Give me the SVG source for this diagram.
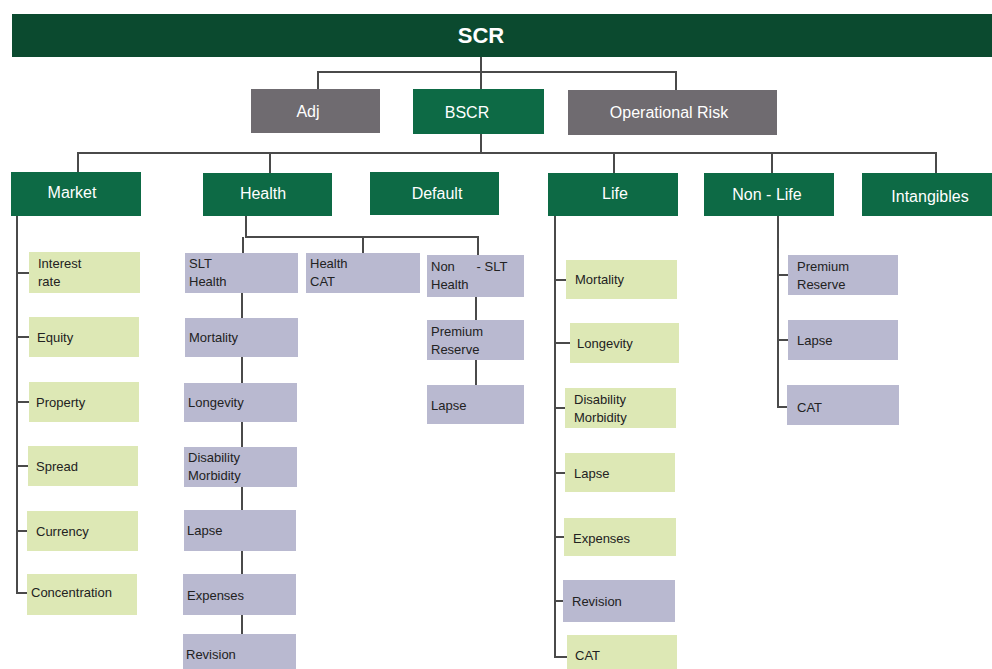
<svg xmlns="http://www.w3.org/2000/svg" width="992" height="669" viewBox="0 0 992 669">
<style>
text{font-family:"Liberation Sans",Arial,sans-serif}
.top{fill:#0b4a2f}
.g{fill:#0d6a45}
.gr{fill:#6f6b70}
.lg{fill:#dde8b5}
.lv{fill:#b9b9d0}
.w{fill:#fff;font-size:16px}
.t{fill:#222;font-size:13px}
.c{fill:none;stroke:#4a4a4a;stroke-width:2}
</style>
<rect width="992" height="669" fill="#fff"/>
<g id="connectors">
<path class="c" d="M481 57V72M318 89V72H676V90M481 72V89"/>
<path class="c" d="M481 134V153M78 172V153H936V173M270 153V173M614 153V173M772 153V173"/>
<path class="c" d="M17 216V593H28M17 273H29M17 337H29M17 402H29M17 466H28M17 531H27"/>
<path class="c" d="M246 216V237H478V255M363 237V253M243 237V253"/>
<path class="c" d="M242 293V634"/>
<path class="c" d="M476 297V385"/>
<path class="c" d="M555 216V657H567M555 280H566M555 343H570M555 408H565M555 473H565M555 537H564M555 601H563"/>
<path class="c" d="M778 216V407H787M778 275H788M778 340H788"/>
</g>
<g id="scr"><rect class="top" x="12" y="14" width="980" height="43"/><text x="481" y="43" text-anchor="middle" fill="#fff" font-size="22" font-weight="bold">SCR</text></g>
<g id="adj"><rect class="gr" x="251" y="89" width="129" height="44"/><text class="w" x="308" y="117" text-anchor="middle">Adj</text></g>
<g id="bscr"><rect class="g" x="413" y="89" width="131" height="45"/><text class="w" x="467" y="118" text-anchor="middle">BSCR</text></g>
<g id="oprisk"><rect class="gr" x="568" y="90" width="209" height="45"/><text class="w" x="669" y="118" text-anchor="middle">Operational Risk</text></g>
<g id="market"><rect class="g" x="11" y="172" width="130" height="44"/><text class="w" x="72" y="198" text-anchor="middle">Market</text></g>
<g id="health"><rect class="g" x="203" y="173" width="129" height="43"/><text class="w" x="263" y="199" text-anchor="middle">Health</text></g>
<g id="default"><rect class="g" x="370" y="172" width="129" height="43"/><text class="w" x="437" y="199" text-anchor="middle">Default</text></g>
<g id="life"><rect class="g" x="548" y="173" width="130" height="43"/><text class="w" x="615" y="199" text-anchor="middle">Life</text></g>
<g id="nonlife"><rect class="g" x="704" y="173" width="130" height="43"/><text class="w" x="767" y="200" text-anchor="middle">Non - Life</text></g>
<g id="intangibles"><rect class="g" x="862" y="173" width="130" height="43"/><text class="w" x="930" y="202" text-anchor="middle">Intangibles</text></g>
<g id="m-interest"><rect class="lg" x="29" y="252" width="111" height="41"/><text class="t" x="38" y="268">Interest</text><text class="t" x="38" y="286">rate</text></g>
<g id="m-equity"><rect class="lg" x="29" y="317" width="110" height="40"/><text class="t" x="37" y="342">Equity</text></g>
<g id="m-property"><rect class="lg" x="29" y="382" width="110" height="40"/><text class="t" x="36" y="407">Property</text></g>
<g id="m-spread"><rect class="lg" x="28" y="446" width="110" height="40"/><text class="t" x="36" y="471">Spread</text></g>
<g id="m-currency"><rect class="lg" x="27" y="511" width="111" height="40"/><text class="t" x="36" y="536">Currency</text></g>
<g id="m-concentration"><rect class="lg" x="27" y="574" width="110" height="41"/><text class="t" x="31" y="597">Concentration</text></g>
<g id="h-slt"><rect class="lv" x="185" y="253" width="113" height="40"/><text class="t" x="189" y="268">SLT</text><text class="t" x="189" y="286">Health</text></g>
<g id="h-cat"><rect class="lv" x="306" y="253" width="114" height="40"/><text class="t" x="310" y="268">Health</text><text class="t" x="310" y="286">CAT</text></g>
<g id="h-nonslt"><rect class="lv" x="427" y="255" width="97" height="42"/><text class="t" x="431" y="271" xml:space="preserve">Non      - SLT</text><text class="t" x="431" y="289">Health</text></g>
<g id="hs-mortality"><rect class="lv" x="185" y="318" width="113" height="39"/><text class="t" x="189" y="342">Mortality</text></g>
<g id="hs-longevity"><rect class="lv" x="184" y="383" width="113" height="39"/><text class="t" x="188" y="407">Longevity</text></g>
<g id="hs-disability"><rect class="lv" x="184" y="447" width="113" height="40"/><text class="t" x="188" y="462">Disability</text><text class="t" x="188" y="480">Morbidity</text></g>
<g id="hs-lapse"><rect class="lv" x="184" y="510" width="112" height="41"/><text class="t" x="187" y="535">Lapse</text></g>
<g id="hs-expenses"><rect class="lv" x="183" y="574" width="113" height="41"/><text class="t" x="187" y="600">Expenses</text></g>
<g id="hs-revision"><rect class="lv" x="183" y="634" width="113" height="40"/><text class="t" x="186" y="659">Revision</text></g>
<g id="hn-premium"><rect class="lv" x="427" y="320" width="97" height="40"/><text class="t" x="431" y="336">Premium</text><text class="t" x="431" y="354">Reserve</text></g>
<g id="hn-lapse"><rect class="lv" x="427" y="385" width="97" height="39"/><text class="t" x="431" y="410">Lapse</text></g>
<g id="l-mortality"><rect class="lg" x="566" y="260" width="111" height="39"/><text class="t" x="575" y="284">Mortality</text></g>
<g id="l-longevity"><rect class="lg" x="570" y="323" width="109" height="40"/><text class="t" x="577" y="348">Longevity</text></g>
<g id="l-disability"><rect class="lg" x="565" y="388" width="111" height="40"/><text class="t" x="574" y="404">Disability</text><text class="t" x="574" y="422">Morbidity</text></g>
<g id="l-lapse"><rect class="lg" x="565" y="453" width="110" height="39"/><text class="t" x="574" y="478">Lapse</text></g>
<g id="l-expenses"><rect class="lg" x="564" y="518" width="112" height="38"/><text class="t" x="573" y="543">Expenses</text></g>
<g id="l-revision"><rect class="lv" x="563" y="580" width="112" height="42"/><text class="t" x="572" y="606">Revision</text></g>
<g id="l-cat"><rect class="lg" x="567" y="635" width="110" height="40"/><text class="t" x="575" y="660">CAT</text></g>
<g id="n-premium"><rect class="lv" x="788" y="255" width="110" height="40"/><text class="t" x="797" y="271">Premium</text><text class="t" x="797" y="289">Reserve</text></g>
<g id="n-lapse"><rect class="lv" x="788" y="320" width="110" height="40"/><text class="t" x="797" y="345">Lapse</text></g>
<g id="n-cat"><rect class="lv" x="787" y="385" width="112" height="40"/><text class="t" x="797" y="412">CAT</text></g>
</svg>
